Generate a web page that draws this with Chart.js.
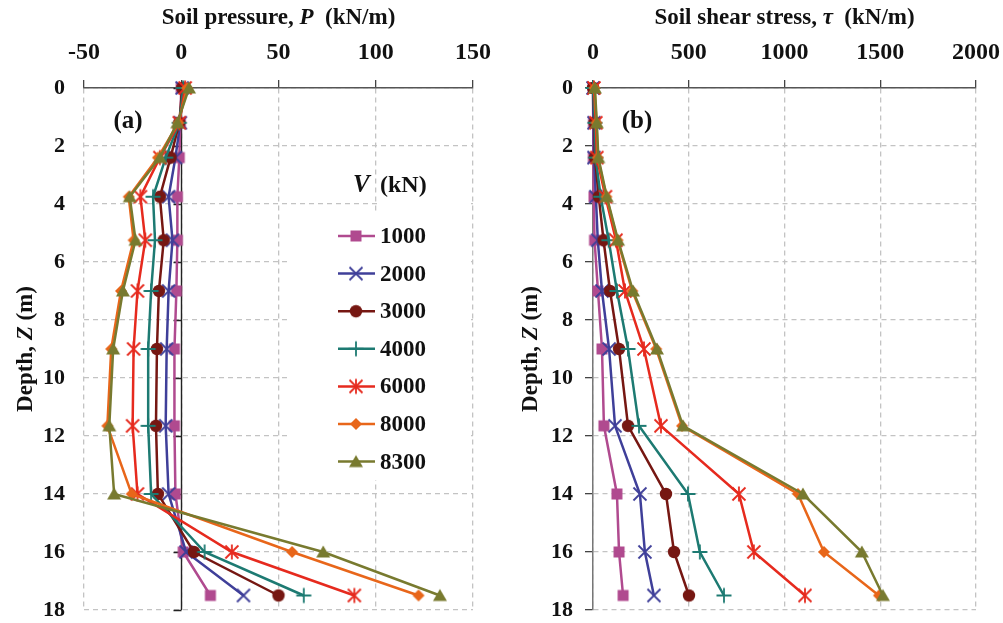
<!DOCTYPE html>
<html>
<head>
<meta charset="utf-8">
<script src="https://cdn.jsdelivr.net/npm/chart.js@4.4.1/dist/chart.umd.min.js"></script>
<style>
  html, body { margin: 0; padding: 0; background: #fff; }
  #wrap { position: relative; width: 1003px; height: 623px; overflow: hidden; background: #fff; }
  #cP { position: absolute; left: 0; top: 0; }
  #cT { position: absolute; left: 505px; top: 0; }
</style>
</head>
<body>
<div id="wrap">
  <canvas id="cT" width="540" height="650"></canvas>
  <canvas id="cP" width="545" height="650"></canvas>
</div>
<script>
// ---- data -------------------------------------------------------------
const depth = [0, 1.2, 2.4, 3.75, 5.25, 7, 9, 11.65, 14, 16, 17.5];
const loadLabels = ['1000', '2000', '3000', '4000', '6000', '8000', '8300'];

// soil pressure P (kN/m) for each load V, one value per depth
const pressure1000 = [0, -0.5, -1, -2, -2, -2.5, -3.5, -3.5, -3, 1, 15];
const pressure2000 = [0.5, -0.5, -3, -6.5, -4.5, -6.5, -7.5, -8, -6.5, 2.5, 32];
const pressure3000 = [0.5, -1, -5.5, -11, -9, -11.5, -12.5, -13, -12, 6.5, 50];
const pressure4000 = [1, -1, -8, -14.5, -13.5, -15.5, -17, -17, -15.5, 12, 63];
const pressure6000 = [2, -1, -11, -21, -18.5, -22.5, -24.5, -25, -22.5, 26, 89];
const pressure8000 = [3, -1.5, -12, -27, -24.5, -31, -36, -38, -25.5, 57, 122];
const pressure8300 = [4, -2, -11, -26.5, -23.5, -30, -35, -37, -34.5, 73, 133];

// soil shear stress tau (kN/m) for each load V, one value per depth
const shear1000 = [0, 3, 2, 5, 8, 26, 47, 57, 125, 136, 157];
const shear2000 = [0, 5, 5, 15, 25, 47, 84, 115, 245, 271, 318];
const shear3000 = [0, 8, 10, 30, 55, 89, 136, 183, 381, 423, 501];
const shear4000 = [0, 10, 14, 40, 82, 125, 183, 240, 496, 558, 684];
const shear6000 = [5, 15, 20, 65, 120, 167, 266, 355, 762, 840, 1107];
const shear8000 = [8, 18, 25, 70, 128, 205, 330, 465, 1070, 1206, 1493];
const shear8300 = [10, 20, 28, 72, 131, 209, 334, 470, 1096, 1404, 1514];

const pressureTicks = [-50, 0, 50, 100, 150];
const shearTicks = [0, 500, 1000, 1500, 2000];
const depthTicks = [0, 2, 4, 6, 8, 10, 12, 14, 16, 18];

const pressureSeries = [pressure1000, pressure2000, pressure3000, pressure4000, pressure6000, pressure8000, pressure8300];
const shearSeries = [shear1000, shear2000, shear3000, shear4000, shear6000, shear8000, shear8300];

// ---- styling ------------------------------------------------------------
const SERIF = "'Liberation Serif', 'Times New Roman', serif";
const lineColors = ['#B04A8F', '#3F3F99', '#761712', '#1D7A72', '#E62A1E', '#E8661A', '#787A2F'];
const markerShapes = ['square', 'x', 'circle', 'plus', 'asterisk', 'diamond', 'triangle'];
const GRID = '#c3c3c3';
const DASH = [5, 4];

function makeMarker(shape, color) {
  const c = document.createElement('canvas');
  c.width = 20; c.height = 20;
  const g = c.getContext('2d');
  const m = 10;
  g.fillStyle = color; g.strokeStyle = color; g.lineWidth = 1.8;
  g.beginPath();
  switch (shape) {
    case 'square':
      g.rect(m - 5.5, m - 5.5, 11, 11); g.fill(); break;
    case 'x':
      g.moveTo(m - 6.5, m - 6.5); g.lineTo(m + 6.5, m + 6.5);
      g.moveTo(m + 6.5, m - 6.5); g.lineTo(m - 6.5, m + 6.5); g.stroke(); break;
    case 'circle':
      g.arc(m, m, 6.2, 0, Math.PI * 2); g.fill(); break;
    case 'plus':
      g.moveTo(m - 7.5, m); g.lineTo(m + 7.5, m);
      g.moveTo(m, m - 7.5); g.lineTo(m, m + 7.5); g.stroke(); break;
    case 'asterisk':
      g.moveTo(m - 6.5, m - 6.5); g.lineTo(m + 6.5, m + 6.5);
      g.moveTo(m + 6.5, m - 6.5); g.lineTo(m - 6.5, m + 6.5);
      g.moveTo(m, m - 7.5); g.lineTo(m, m + 7.5); g.stroke(); break;
    case 'diamond':
      g.moveTo(m - 6, m); g.lineTo(m, m - 6); g.lineTo(m + 6, m); g.lineTo(m, m + 6);
      g.closePath(); g.fill(); break;
    case 'triangle':
      g.moveTo(m, m - 6.5); g.lineTo(m + 7, m + 5.5); g.lineTo(m - 7, m + 5.5);
      g.closePath(); g.fill(); break;
  }
  return c;
}
const markers = markerShapes.map((s, i) => makeMarker(s, lineColors[i]));

function buildDatasets(series) {
  return series.map((vals, i) => ({
    label: loadLabels[i],
    data: depth.map((d, k) => ({ x: vals[k], y: d })),
    borderColor: lineColors[i],
    backgroundColor: lineColors[i],
    borderWidth: 2.5,
    pointStyle: markers[i],
    pointRadius: 7,
    showLine: true,
    tension: 0,
    clip: false,
    order: series.length - 1 - i
  }));
}

// draw text made of several runs (some italic) centred on (cx, cy)
function drawRuns(ctx, runs, cx, cy, rotate) {
  ctx.save();
  ctx.translate(cx, cy);
  if (rotate) ctx.rotate(-Math.PI / 2);
  ctx.textBaseline = 'middle';
  ctx.textAlign = 'left';
  ctx.fillStyle = '#111';
  let total = 0;
  const widths = runs.map(r => { ctx.font = r.font; const w = ctx.measureText(r.text).width; total += w; return w; });
  let x = -total / 2;
  runs.forEach((r, i) => { ctx.font = r.font; ctx.fillText(r.text, x, 0); x += widths[i]; });
  ctx.restore();
}

function xScale(ticks, tickFont) {
  return {
    type: 'linear', position: 'top',
    min: ticks[0], max: ticks[ticks.length - 1],
    afterBuildTicks: s => { s.ticks = ticks.map(v => ({ value: v })); },
    afterFit: s => { s.height = 88; },
    ticks: { font: tickFont, color: '#111', padding: 15, maxRotation: 0, callback: v => String(v) },
    grid: { color: GRID, lineWidth: 1.3, drawTicks: true, tickLength: 8, tickColor: '#444', tickWidth: 1.3 },
    border: { display: true, color: '#555', width: 1.5, dash: DASH }
  };
}

function yScale(withTicks, pad, width) {
  return {
    type: 'linear', reverse: true,
    min: depthTicks[0], max: depthTicks[depthTicks.length - 1],
    afterBuildTicks: s => { s.ticks = depthTicks.map(v => ({ value: v })); },
    afterFit: s => { s.width = width; },
    ticks: { font: { family: SERIF, size: 22, weight: 'bold', lineHeight: 1 }, color: '#111', padding: pad, callback: v => String(v) },
    grid: { color: GRID, lineWidth: 1.3, drawTicks: withTicks, tickLength: 8, tickColor: '#444', tickWidth: 1.3 },
    border: { display: withTicks, color: '#777', width: 1.5, dash: DASH }
  };
}

const tickFont = { family: SERIF, size: 24, weight: 'bold', lineHeight: 1 };
const B = sz => `bold ${sz}px ${SERIF}`;
const BI = sz => `italic bold ${sz}px ${SERIF}`;

// axis titles and panel letter
function labelsPlugin(titleRuns, letter) {
  return {
    id: 'panelLabels',
    afterDraw(chart) {
      const { ctx, chartArea: a } = chart;
      drawRuns(ctx, titleRuns, (a.left + a.right) / 2, 18, false);
      drawRuns(ctx, [{ text: 'Depth, ', font: B(23) }, { text: 'Z', font: BI(23) }, { text: ' (m)', font: B(23) }],
        26, (a.top + a.bottom) / 2, true);
      drawRuns(ctx, [{ text: letter, font: B(25) }], a.left + 44, a.top + 34, false);
    }
  };
}

// solid vertical axis through P = 0 with its tick marks
const zeroAxisPlugin = {
  id: 'zeroAxis',
  beforeDatasetsDraw(chart) {
    const { ctx, chartArea: a, scales } = chart;
    const x = Math.round(scales.x.getPixelForValue(0)) + 0.5;
    ctx.save();
    ctx.strokeStyle = '#222';
    ctx.lineWidth = 1.4;
    ctx.beginPath();
    ctx.moveTo(x, a.top); ctx.lineTo(x, a.bottom);
    depthTicks.forEach(v => {
      const y = Math.round(scales.y.getPixelForValue(v)) + 0.5;
      ctx.moveTo(x - 8, y); ctx.lineTo(x, y);
    });
    ctx.stroke();
    ctx.restore();
  }
};

// legend block for the load V
const legendPlugin = {
  id: 'loadLegend',
  beforeDatasetsDraw(chart) {
    const { ctx } = chart;
    ctx.save();
    ctx.fillStyle = '#fff';
    ctx.fillRect(378, 152, 93, 60);
    ctx.fillRect(290, 212, 181, 268);
    ctx.restore();
  },
  afterDatasetsDraw(chart) {
    const { ctx } = chart;
    ctx.save();
    ctx.textBaseline = 'middle';
    ctx.fillStyle = '#111';
    ctx.font = BI(25);
    ctx.fillText('V', 353, 186);
    ctx.font = B(24);
    ctx.fillText('(kN)', 380, 186);
    chart.data.datasets.forEach((ds, i) => {
      const y = 236 + i * 37.6;
      ctx.strokeStyle = ds.borderColor;
      ctx.lineWidth = 2.5;
      ctx.beginPath();
      ctx.moveTo(338, y); ctx.lineTo(375, y);
      ctx.stroke();
      ctx.drawImage(ds.pointStyle, 356 - 10, y - 10);
      ctx.fillStyle = '#111';
      ctx.font = B(23);
      ctx.fillText(ds.label, 380, y + 1);
    });
    ctx.restore();
  }
};

const common = {
  responsive: false,
  animation: false,
  events: [],
  plugins: { legend: { display: false }, tooltip: { enabled: false } }
};

new Chart(document.getElementById('cP'), {
  type: 'scatter',
  data: { datasets: buildDatasets(pressureSeries) },
  options: Object.assign({}, common, {
    layout: { padding: { left: 0, right: 72, top: 0, bottom: 40 } },
    scales: {
      x: xScale(pressureTicks, tickFont),
      y: yScale(false, 19, 84)
    }
  }),
  plugins: [zeroAxisPlugin, legendPlugin,
    labelsPlugin([{ text: 'Soil pressure, ', font: B(23) }, { text: 'P', font: BI(23) }, { text: '  (kN/m)', font: B(23) }], '(a)')]
});

new Chart(document.getElementById('cT'), {
  type: 'scatter',
  data: { datasets: buildDatasets(shearSeries) },
  options: Object.assign({}, common, {
    layout: { padding: { left: 0, right: 69, top: 0, bottom: 40 } },
    scales: {
      x: xScale(shearTicks, tickFont),
      y: yScale(true, 12, 88)
    }
  }),
  plugins: [labelsPlugin([{ text: 'Soil shear stress, ', font: B(23) }, { text: '\u03C4', font: BI(23) }, { text: '  (kN/m)', font: B(23) }], '(b)')]
});
</script>
</body>
</html>
